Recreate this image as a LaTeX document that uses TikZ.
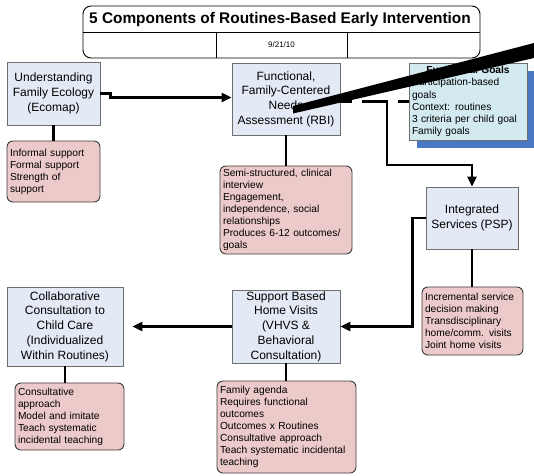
\documentclass[tikz,border=0pt]{standalone}
\usepackage{fontspec}
\setmainfont{Liberation Sans}
\usetikzlibrary{arrows.meta,shadows}

\definecolor{boxblue}{HTML}{E4EAF5}
\definecolor{boxedge}{HTML}{6E6E6E}
\definecolor{notepink}{HTML}{EDCACA}
\definecolor{noteedge}{HTML}{3A3A3A}
\definecolor{goalfill}{HTML}{D3EAF0}
\definecolor{goalshade}{HTML}{4A78C2}

\tikzset{
  stagebox/.style={draw=boxedge, line width=0.9pt, fill=boxblue, align=center,
    inner sep=1pt, font=\fontsize{12}{14.7}\selectfont},
  notebox/.style={draw=noteedge, line width=0.9pt, fill=notepink, rounded corners=6pt,
    align=left, inner xsep=3pt, inner ysep=1pt, font=\fontsize{10.2}{12}\selectfont},
  link/.style={line width=2.4pt, line cap=butt},
  flow/.style={line width=2.4pt, -{Triangle[length=10pt,width=9pt]}},
}

\begin{document}
\begin{tikzpicture}[x=1pt,y=-1pt]
\useasboundingbox (0,0) rectangle (534,475);

% heading table
\node[draw, line width=0.9pt, rounded corners=8pt, minimum width=397pt, minimum height=52pt,
  inner sep=0pt] (head) at (281.5,32) {};
\draw[line width=0.9pt] (head.west |- 0,32) -- (head.east |- 0,32);
\draw[line width=0.9pt] (216,32) -- (216,0 |- head.south);
\draw[line width=0.9pt] (347,32) -- (347,0 |- head.south);
\node[font=\bfseries\fontsize{15.4}{17}\selectfont, inner sep=0pt, anchor=base] (title) at (280,23.5)
  {5 Components of Routines-Based Early Intervention};
\node[font=\fontsize{8}{9}\selectfont, inner sep=0pt] (date) at (281.5,45) {9/21/10};

% stages
\node[stagebox, minimum width=93pt, minimum height=63pt] (eco) at (53.5,93.5)
  {Understanding\\Family Ecology\\(Ecomap)};
\node[stagebox, minimum width=108pt, minimum height=72pt] (rbi) at (286,99)
  {Functional,\\Family-Centered\\Needs\\Assessment (RBI)};
\node[stagebox, minimum width=92pt, minimum height=62pt] (psp) at (472,218)
  {Integrated\\Services (PSP)};
\node[stagebox, minimum width=108pt, minimum height=73pt] (vhvs) at (286,326.5)
  {Support Based\\Home Visits\\(VHVS \&\\Behavioral\\Consultation)};
\node[stagebox, minimum width=116pt, minimum height=79pt] (cc) at (65,326.5)
  {Collaborative\\Consultation to\\Child Care\\(Individualized\\Within Routines)};

% goals box with offset shade
\node[draw=boxedge, line width=0.9pt, fill=goalfill, text width=112pt, align=left,
  inner xsep=3pt, inner ysep=1pt, minimum height=77pt, font=\fontsize{10.2}{12.2}\selectfont,
  drop shadow={shadow xshift=8pt, shadow yshift=-8pt, fill=goalshade, opacity=1}]
  (goals) at (468,101.5)
  {\makebox[112pt]{\bfseries Functional Goals}\\Participation-based\\goals\\Context: routines\\3 criteria per child goal\\Family goals};

% notes
\node[notebox, text width=87pt, minimum height=61pt] (ecoN) at (53.5,171.5)
  {Informal support\\Formal support\\Strength of\\support};
\node[notebox, text width=126pt, minimum height=88pt] (rbiN) at (286,210)
  {Semi-structured, clinical\\interview\\Engagement,\\independence, social\\relationships\\Produces 6-12 outcomes/\\goals};
\node[notebox, text width=95pt, minimum height=68pt] (pspN) at (472.5,321)
  {Incremental service\\decision making\\Transdisciplinary\\home/comm. visits\\Joint home visits};
\node[notebox, text width=133pt, minimum height=92pt] (vhvsN) at (286.5,427)
  {Family agenda\\Requires functional\\outcomes\\Outcomes x Routines\\Consultative approach\\Teach systematic incidental\\teaching};
\node[notebox, text width=103pt, minimum height=67pt] (ccN) at (69.5,416.5)
  {Consultative\\approach\\Model and imitate\\Teach systematic\\incidental teaching};

% links to notes
\draw[link] (eco.south) -- (eco.south |- ecoN.north);
\draw[link] (rbi.south) -- (rbi.south |- rbiN.north);
\draw[link] (psp.south) -- (psp.south |- pspN.north);
\draw[link] (vhvs.south) -- (vhvs.south |- vhvsN.north);
\draw[link] (cc.south) -- (cc.south |- ccN.north);

% flow between stages
\draw[flow] (eco.east) -- ++(10pt,0) |- ([yshift=1.5pt]rbi.west);
\draw[link, dash pattern=on 26pt off 10pt, dash phase=14pt] (rbi.east |- goals.west) -- (goals.west);
\coordinate (branch) at (387,101.5);
\coordinate (bend) at (387,165);
\draw[flow] (branch) -- (bend) -| (psp.north);
\draw[flow] (psp.west) -- ++(-13pt,0) |- (vhvs.east);
\draw[flow, shorten >=9pt] (vhvs.west) -- (cc.east);

% heavy tapered stroke across the top right
\fill[black] (293,106) -- (534,43) -- (534,58) -- (293,113.5) -- cycle;
\end{tikzpicture}
\end{document}
